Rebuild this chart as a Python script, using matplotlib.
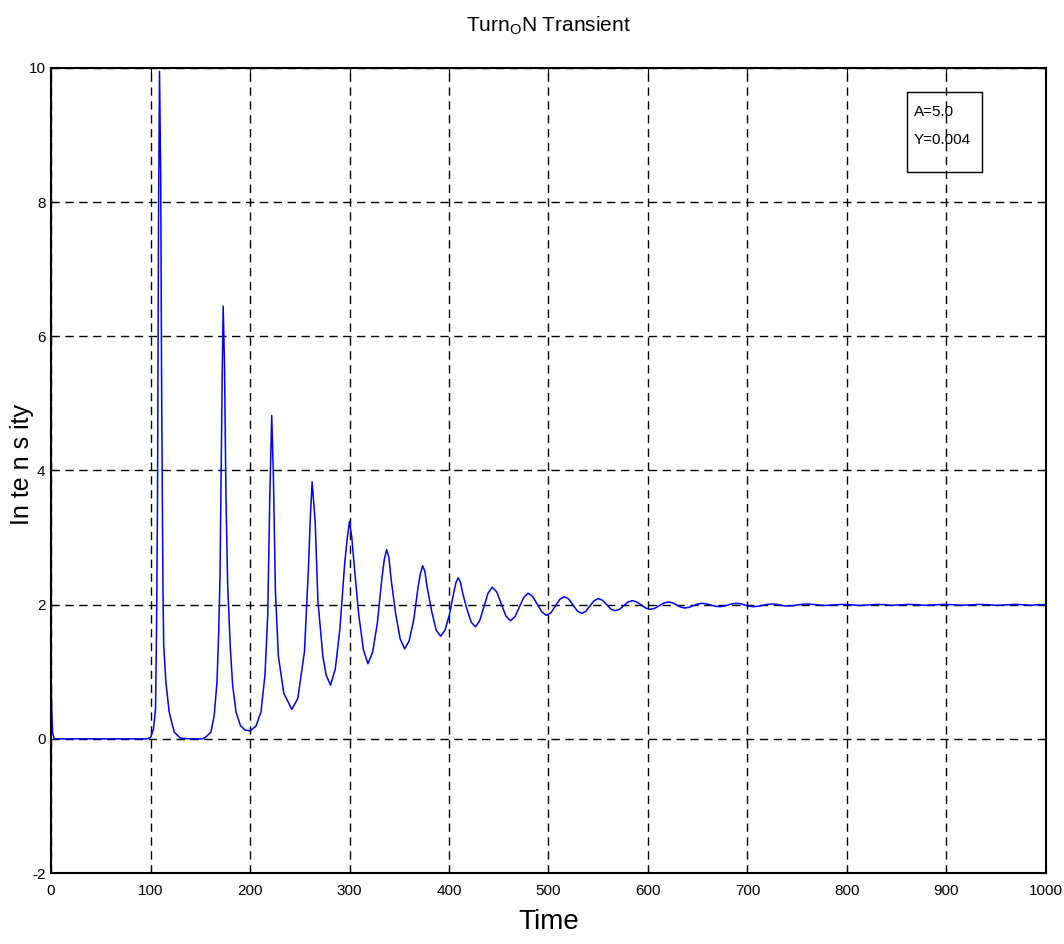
import matplotlib
matplotlib.use("Agg")
import matplotlib.pyplot as plt
from matplotlib.patches import Rectangle

plt.rcParams['font.family'] = ['Liberation Sans', 'DejaVu Sans']
plt.rcParams['mathtext.fontset'] = 'custom'
plt.rcParams['mathtext.rm'] = 'Liberation Sans'
plt.rcParams['axes.unicode_minus'] = False

# values (time, intensity)
time = [0, 0.5, 1.5, 3, 60, 96, 100, 103, 105, 106, 107, 108, 109, 110.2, 111.2,
        112.5, 113.2, 115.4, 118.7, 123.8, 130, 140, 152,
        155, 160.7, 164, 166.8, 168.5, 169.8, 171, 172, 173, 174.3, 175.8, 177.5,
        180.2, 182.5, 185.9, 190.3, 195, 200, 206, 211, 215, 217.8, 219.8, 221.8,
        223.5, 225.5, 228.5, 233.9, 242, 248, 254.7, 258.7, 260.6, 262.4, 265.5,
        268.2, 273.2, 276.5, 280.9,
        285.7, 290.4, 295.2, 297.8, 300, 302.3, 304.6, 309.2, 313.9, 318.5,
        323.2, 327.9, 332.6, 335.0, 337.3, 339.6, 341.8, 346.4, 350.9, 355.4,
        359.9, 364.5, 369.0, 371.3, 373.5, 375.8, 378.0, 382.6, 387.1, 391.6,
        396.0, 400.4, 404.8, 407.0, 409.2, 411.4, 413.6, 417.9, 422.3, 426.6,
        430.8, 435.0, 439.2, 443.4, 448.0, 452.6, 457.2, 461.8,
        466.3, 470.7, 475.2, 479.6, 484.2, 488.8, 493.4, 498.0,
        502.5, 507.0, 511.4, 515.9, 520.3, 524.6, 529.0, 533.3,
        537.5, 541.7, 545.9, 550.1, 554.3, 558.5, 562.7, 566.9,
        571.3, 575.7, 580.0, 584.4, 588.8, 593.3, 597.7, 602.1,
        606.7, 611.4, 616.0, 620.6, 624.7, 628.8, 632.9, 637.0,
        641.3, 645.5, 649.8, 654.0, 658.5, 663.0, 667.5, 672.0,
        676.3, 680.5, 684.8, 689.0, 693.3, 697.5, 701.8, 706.0,
        710.8, 715.5, 720.3, 725.0, 728.8, 732.5, 736.3, 740.0,
        745.0, 750.0, 755.0, 760.0,
        768, 777, 786, 795, 803, 812, 821, 830,
        838, 845, 853, 862, 870, 878, 887, 897,
        906, 915, 923, 932, 941, 950, 959, 968,
        976, 985, 992, 1000]
intensity = [1.0, 0.5, 0.1, 0.0, 0.0, 0.0, 0.02, 0.15, 0.45, 1.6, 3.6, 7.7, 9.95,
             8.4, 5.0, 2.2, 1.4, 0.85, 0.4, 0.1, 0.01, 0.0, 0.0,
             0.02, 0.1, 0.35, 0.85, 1.6, 2.4, 4.0, 5.4, 6.45, 5.6, 3.6, 2.3,
             1.35, 0.8, 0.4, 0.2, 0.13, 0.12, 0.19, 0.4, 0.95, 1.85, 3.57, 4.82,
             3.9, 2.2, 1.23, 0.68, 0.44, 0.6, 1.3, 2.54, 3.3, 3.83, 3.23,
             2.06, 1.23, 0.95, 0.8,
             1.04, 1.65, 2.63, 3.0, 3.24, 3.0, 2.6, 1.86, 1.33, 1.12,
             1.29, 1.72, 2.4, 2.68, 2.82, 2.70, 2.38, 1.86, 1.49, 1.34,
             1.46, 1.77, 2.27, 2.47, 2.58, 2.49, 2.26, 1.90, 1.62, 1.53,
             1.62, 1.85, 2.18, 2.33, 2.40, 2.34, 2.18, 1.94, 1.74, 1.67,
             1.76, 1.965, 2.17, 2.26, 2.19, 2.01, 1.83, 1.76,
             1.82, 1.965, 2.11, 2.17, 2.12, 2.005, 1.89, 1.84,
             1.88, 1.98, 2.08, 2.12, 2.085, 1.995, 1.905, 1.87,
             1.90, 1.98, 2.06, 2.09, 2.065, 2.0, 1.935, 1.91,
             1.93, 1.985, 2.04, 2.06, 2.04, 1.995, 1.95, 1.93,
             1.945, 1.985, 2.025, 2.04, 2.027, 1.995, 1.963, 1.95,
             1.96, 1.985, 2.01, 2.02, 2.013, 1.995, 1.977, 1.97,
             1.977, 1.995, 2.013, 2.02, 2.013, 1.995, 1.977, 1.97,
             1.976, 1.99, 2.004, 2.01, 2.006, 1.995, 1.984, 1.98,
             1.984, 1.995, 2.006, 2.01,
             2.0, 1.988, 1.995, 2.004, 2.0, 1.988, 1.995, 2.004,
             2.0, 1.99, 1.996, 2.004, 2.0, 1.99, 1.996, 2.004,
             2.0, 1.99, 1.996, 2.004, 2.0, 1.99, 1.996, 2.004,
             2.0, 1.99, 2.0, 2.0]

x_ticks = list(range(0, 1001, 100))
y_ticks = [-2, 0, 2, 4, 6, 8, 10]
box_lines = ["A=5.0", "Y=0.004"]

fig = plt.figure(figsize=(10.64, 9.44), dpi=100, facecolor='white')
ax = fig.add_axes([0.048, 0.0752, 0.935, 0.8528])

ax.plot(time, intensity, color='#0000ff', linewidth=1.1)

ax.set_xlim(0, 1000)
ax.set_ylim(-2, 10)
ax.set_xticks(x_ticks)
ax.set_yticks(y_ticks)
ax.grid(True, color='black', linestyle=(0, (6, 4)), linewidth=1.0)
ax.tick_params(direction='in', top=True, right=True, length=4, labelsize=11)
ax.tick_params(axis='x', pad=8)
ax.tick_params(axis='y', pad=4)
for s in ax.spines.values():
    s.set_linewidth(1.5)

ax.set_title(r'Turn$_\mathrm{O}$N Transient', fontsize=15, pad=26)
ax.set_xlabel('Time', fontsize=20)
ax.xaxis.set_label_coords(0.5, -0.061)
ax.xaxis.label.set_va('center')
ax.set_ylabel('In te n s ity', fontsize=18)
ax.yaxis.set_label_coords(-0.029, 0.507)
ax.yaxis.label.set_va('center')

# parameter box
ax.add_patch(Rectangle((0.860, 0.871), 0.076, 0.099, transform=ax.transAxes,
                       fill=False, edgecolor='black', linewidth=1.0, zorder=5))
ax.text(0.867, 0.945, box_lines[0], transform=ax.transAxes, fontsize=11, va='center')
ax.text(0.867, 0.911, box_lines[1], transform=ax.transAxes, fontsize=11, va='center')

fig.savefig('out.png', dpi=100, facecolor='white')
